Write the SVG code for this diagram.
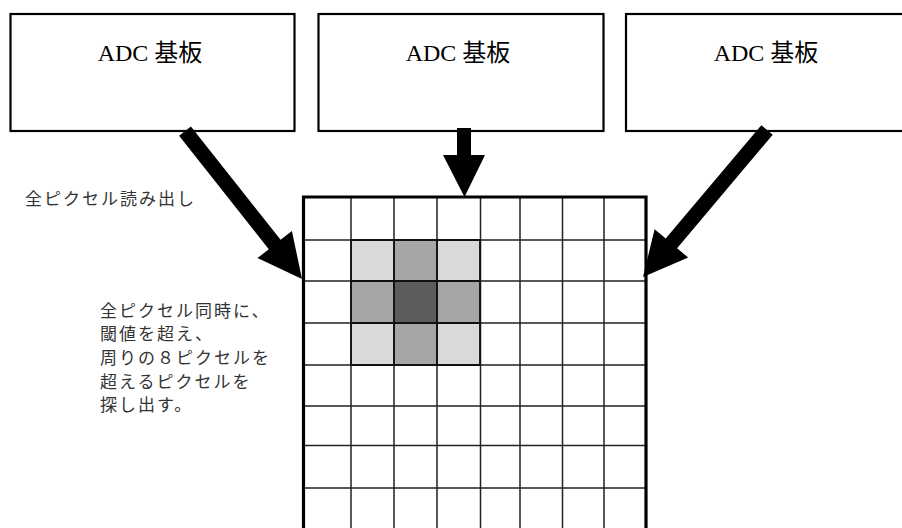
<svg xmlns="http://www.w3.org/2000/svg" width="902" height="528" viewBox="0 0 902 528">
<style>
.box{fill:#fff;stroke:#000;stroke-width:2.2}
.lbl{font-family:"Liberation Serif","Noto Sans CJK JP",serif;font-size:24px;fill:#000;text-anchor:middle}
.note{font-family:"Noto Sans CJK JP","Noto Sans",sans-serif;font-size:17px;fill:#333;letter-spacing:2px}
.arrow{fill:#000;stroke:none}
.gl{stroke:#222;stroke-width:1.5;fill:none}
.lt{fill:#d9d9d9}.md{fill:#a6a6a6}.dk{fill:#5c5c5c}
</style>
<rect width="902" height="528" fill="#fff"/>
<g id="adc1"><rect class="box" x="10.5" y="14" width="284" height="117"/><text class="lbl" x="150" y="61">ADC 基板</text></g>
<g id="adc2"><rect class="box" x="318.5" y="14" width="285" height="117"/><text class="lbl" x="458" y="61">ADC 基板</text></g>
<g id="adc3"><rect class="box" x="626" y="14" width="290" height="117"/><text class="lbl" x="766" y="61">ADC 基板</text></g>
<g id="pixels">
<rect class="lt" x="351" y="240" width="43" height="41"/>
<rect class="md" x="394" y="240" width="43" height="41"/>
<rect class="lt" x="437" y="240" width="43" height="41"/>
<rect class="md" x="351" y="281" width="43" height="42"/>
<rect class="dk" x="394" y="281" width="43" height="42"/>
<rect class="md" x="437" y="281" width="43" height="42"/>
<rect class="lt" x="351" y="323" width="43" height="42"/>
<rect class="md" x="394" y="323" width="43" height="42"/>
<rect class="lt" x="437" y="323" width="43" height="42"/>
<path class="gl" d="M351 197V528M394 197V528M437 197V528M480.5 197V528M520 197V528M562.5 197V528M604 197V528M303 240H646M303 281H646M303 323H646M303 365H646M303 406H646M303 445.5H646M303 488H646"/>
<path d="M351 240H480V365H351Z M394 240V365M437 240V365M351 281H480M351 323H480" fill="none" stroke="#111" stroke-width="1.8"/>
<path d="M303.5 530V197H646V530" fill="none" stroke="#000" stroke-width="3.2"/>
</g>
<g id="connectors">
<polygon class="arrow" points="190.9,126.4 280.6,239.8 291.9,230.9 302,279 257.5,258.1 268.8,249.2 179.1,135.7"/>
<polygon class="arrow" points="457,128 471,128 471,155 485,155 464.5,197 443,155 457,155"/>
<polygon class="arrow" points="772.7,134.8 677.1,248.2 688.2,257.6 643,277 654.6,229.2 665.7,238.6 761.3,125.2"/>
</g>
<g id="notes">
<text class="note" x="25" y="205">全ピクセル読み出し</text>
<text class="note" x="100" y="317">全ピクセル同時に、</text>
<text class="note" x="100" y="340">閾値を超え、</text>
<text class="note" x="100" y="364">周りの８ピクセルを</text>
<text class="note" x="100" y="388">超えるピクセルを</text>
<text class="note" x="100" y="411">探し出す。</text>
</g>
</svg>
